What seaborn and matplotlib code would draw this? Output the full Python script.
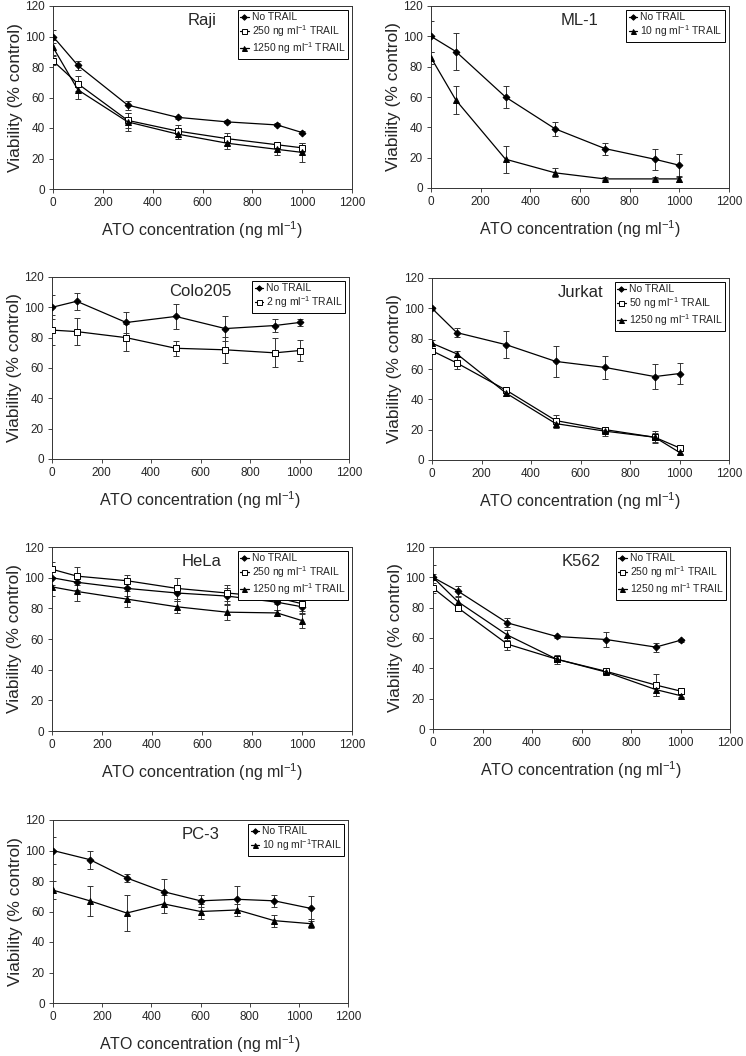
import numpy as np
import pandas as pd
import matplotlib
matplotlib.use('Agg')
import matplotlib.pyplot as plt
import seaborn as sns

# ATO concentrations (ng/ml)
ato = [0, 100, 300, 500, 700, 900, 1000]
ato_pc3 = [0, 150, 300, 450, 600, 750, 900, 1050]

# Raji
raji_none = [100, 81, 55, 47, 44, 42, 37]
raji_none_err = [4, 3, 3, 1, 1, 1, 1]
raji_250 = [84, 69, 45, 38, 33, 29, 27]
raji_250_err = [3, 5, 5, 4, 4, 2, 3]
raji_1250 = [93, 65, 44, 36, 30, 26, 24]
raji_1250_err = [5, 6, 6, 3, 4, 4, 6]

# ML-1
ml1_none = [100, 90, 60, 39, 26, 19, 15]
ml1_none_err = [10, 12, 7, 4.5, 4, 7, 7.5]
ml1_10 = [86, 58, 19, 10, 6, 6, 6]
ml1_10_err = [4, 9, 9, 3, 1, 1, 2]

# Colo205
colo_none = [100, 104, 90, 94, 86, 88, 90]
colo_none_err = [8, 5.5, 7, 8, 8, 4.5, 2.5]
colo_2 = [85, 84, 80, 73, 72, 70, 71.5]
colo_2_err = [10, 9, 9, 5, 8.5, 9.5, 7]

# Jurkat
jurkat_none = [100, 84, 76, 65, 61, 55, 57]
jurkat_none_err = [1, 3, 9, 10, 7.5, 8, 7]
jurkat_50 = [72, 64, 46, 26, 20, 15, 8]
jurkat_50_err = [2, 4, 2, 4, 2, 3, 1]
jurkat_1250 = [77, 70, 44, 24, 19, 15, 5]
jurkat_1250_err = [2, 2, 2, 3, 3, 4, 1]

# HeLa
hela_none = [100, 97, 93, 90, 88, 84, 81]
hela_none_err = [5, 5, 5, 5, 5, 5, 5]
hela_250 = [105.5, 101, 98, 93, 90, 87, 83]
hela_250_err = [5, 6, 4, 7, 5, 4, 5]
hela_1250 = [94, 91, 86, 81, 77.5, 77, 72]
hela_1250_err = [6, 6, 5, 4, 5, 2, 5]

# K562
k562_none = [100, 91, 70, 61, 59, 54, 58.5]
k562_none_err = [8, 3, 3, 1, 5, 3, 1]
k562_250 = [93, 80, 56, 46, 38, 29, 25]
k562_250_err = [3, 2, 4, 2, 1, 7, 2]
k562_1250 = [100, 84, 62, 46, 37.5, 26, 22]
k562_1250_err = [2, 3, 3, 3, 1, 4, 1]

# PC-3
pc3_none = [100, 94, 82, 73, 67, 68, 67, 62]
pc3_none_err = [9, 6, 2.5, 8, 4, 9, 4, 8]
pc3_10 = [74, 67, 59, 65, 60, 61, 54, 52]
pc3_10_err = [6, 10, 12, 6, 5, 4, 4, 3]

lbl_none = 'No TRAIL'
unit = r' ng ml$^{-1}$ TRAIL'

panels = [
    ('Raji', ato, [(lbl_none, raji_none, raji_none_err, 'D'),
                   ('250' + unit, raji_250, raji_250_err, 's'),
                   ('1250' + unit, raji_1250, raji_1250_err, '^')]),
    ('ML-1', ato, [(lbl_none, ml1_none, ml1_none_err, 'D'),
                   ('10' + unit, ml1_10, ml1_10_err, '^')]),
    ('Colo205', ato, [(lbl_none, colo_none, colo_none_err, 'D'),
                      ('2' + unit, colo_2, colo_2_err, 's')]),
    ('Jurkat', ato, [(lbl_none, jurkat_none, jurkat_none_err, 'D'),
                     ('50' + unit, jurkat_50, jurkat_50_err, 's'),
                     ('1250' + unit, jurkat_1250, jurkat_1250_err, '^')]),
    ('HeLa', ato, [(lbl_none, hela_none, hela_none_err, 'D'),
                   ('250' + unit, hela_250, hela_250_err, 's'),
                   ('1250' + unit, hela_1250, hela_1250_err, '^')]),
    ('K562', ato, [(lbl_none, k562_none, k562_none_err, 'D'),
                   ('250' + unit, k562_250, k562_250_err, 's'),
                   ('1250' + unit, k562_1250, k562_1250_err, '^')]),
    ('PC-3', ato_pc3, [(lbl_none, pc3_none, pc3_none_err, 'D'),
                       (r'10 ng ml$^{-1}$TRAIL', pc3_10, pc3_10_err, '^')]),
]

# axes boxes in pixels: left, top, right, bottom
boxes = [(53, 6, 352, 189), (431, 6, 729, 188),
         (52, 277, 349, 459), (432, 278, 729, 460),
         (52, 547, 352, 731), (433, 547, 730, 729),
         (53, 820, 348, 1003)]

sns.set_style('ticks')
plt.rcParams['font.family'] = ['Liberation Sans', 'DejaVu Sans']
plt.rcParams['mathtext.default'] = 'regular'

W, H = 746, 1056
fig = plt.figure(figsize=(W / 100, H / 100), dpi=100)

for (name, xs, series), (l, t, r, b) in zip(panels, boxes):
    ax = fig.add_axes([l / W, 1 - b / H, (r - l) / W, (b - t) / H])
    for label, ys, err, mk in series:
        df = pd.DataFrame({'x': xs, 'y': ys})
        face = 'white' if mk == 's' else 'black'
        size = 3.5 if mk == 'D' else 4.5
        ax.errorbar(xs, ys, yerr=err, fmt='none', ecolor='#333333',
                    elinewidth=0.7, capsize=2, capthick=0.7, zorder=1)
        sns.lineplot(data=df, x='x', y='y', ax=ax, color='black', lw=0.9,
                     marker=mk, markersize=size, markerfacecolor=face,
                     markeredgecolor='black', markeredgewidth=0.7,
                     label=label, zorder=3)
    ax.set_xlim(0, 1200)
    ax.set_ylim(0, 120)
    ax.set_xticks(range(0, 1201, 200))
    ax.set_yticks(range(0, 121, 20))
    ax.set_xlabel(r'ATO concentration (ng ml$^{-1}$)', fontsize=11.5, labelpad=7)
    ax.set_ylabel('Viability (% control)', fontsize=12.5, labelpad=1)
    ax.tick_params(labelsize=8.5, length=3, width=0.6, pad=3)
    for sp in ax.spines.values():
        sp.set_linewidth(0.7)
        sp.set_color('#333333')
    ax.text(0.5, 0.92, name, transform=ax.transAxes, ha='center', va='center',
            fontsize=12)
    leg = ax.legend(loc='upper right', fontsize=7.5, frameon=True, fancybox=False,
                    edgecolor='black', framealpha=1, borderpad=0.25,
                    labelspacing=0.1, handlelength=0.8, handletextpad=0.3,
                    borderaxespad=0.35, markerscale=0.8)
    leg.get_frame().set_linewidth(0.7)

fig.savefig('out.png', dpi=100)
